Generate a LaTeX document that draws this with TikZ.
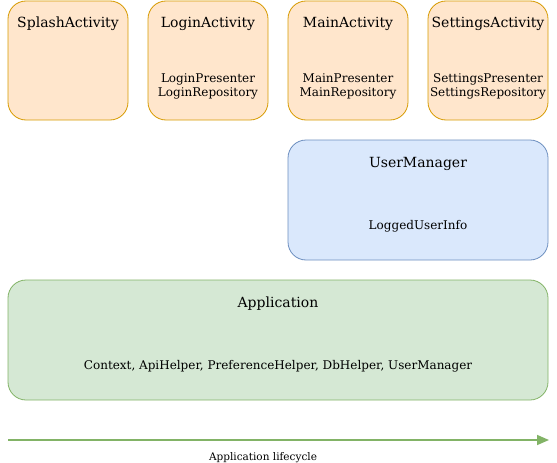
\documentclass[tikz,border=0pt]{standalone}
\usepackage{fontspec}
\setmainfont{DejaVu Serif}
\usetikzlibrary{arrows.meta}
\definecolor{ofill}{HTML}{FFE6CC}
\definecolor{ostroke}{HTML}{D79B00}
\definecolor{bfill}{HTML}{DAE8FC}
\definecolor{bstroke}{HTML}{6C8EBF}
\definecolor{gfill}{HTML}{D5E8D4}
\definecolor{gstroke}{HTML}{82B366}
\tikzset{
  x=1pt,y=-1pt,
  box/.style={rounded corners=18pt, line width=0.8pt},
  obox/.style={box, fill=ofill, draw=ostroke},
  bbox/.style={box, fill=bfill, draw=bstroke},
  gbox/.style={box, fill=gfill, draw=gstroke},
  title/.style={font=\fontsize{14}{16}\selectfont, inner sep=0pt},
  sub/.style={font=\fontsize{12}{14}\selectfont, inner sep=0pt, align=center},
  small/.style={font=\fontsize{10.5}{12}\selectfont, inner sep=0pt},
}
\begin{document}
\begin{tikzpicture}
\useasboundingbox (0,0) rectangle (557,463);
\draw[obox] (8,1) rectangle (128,120);
\draw[obox] (148,1) rectangle (268,120);
\draw[obox] (288,1) rectangle (408,120);
\draw[obox] (428,1) rectangle (548,120);
\node[title] (splash) at (68,24) {SplashActivity};
\node[title] (login) at (208,24) {LoginActivity};
\node[title] (main) at (348,24) {MainActivity};
\node[title] (settings) at (488,24) {SettingsActivity};
\node[sub] (loginsub) at (208,86) {LoginPresenter\\LoginRepository};
\node[sub] (mainsub) at (348,86) {MainPresenter\\MainRepository};
\node[sub] (settingssub) at (488,86) {SettingsPresenter\\SettingsRepository};
\draw[bbox] (288,140) rectangle (548,260);
\node[title] (um) at (418,164) {UserManager};
\node[sub] (umsub) at (418,226) {LoggedUserInfo};
\draw[gbox] (8,280) rectangle (548,400);
\node[title] (app) at (278,304) {Application};
\node[sub] (appsub) at (278,366) {Context, ApiHelper, PreferenceHelper, DbHelper, UserManager};
\coordinate (ls) at (8,440);
\coordinate (le) at (549,440);
\draw[gstroke, line width=1.6pt, -{Triangle[length=12pt,width=10pt]}] (ls) -- (le);
\node[small] (life) at (263,458) {Application lifecycle};
\end{tikzpicture}
\end{document}
